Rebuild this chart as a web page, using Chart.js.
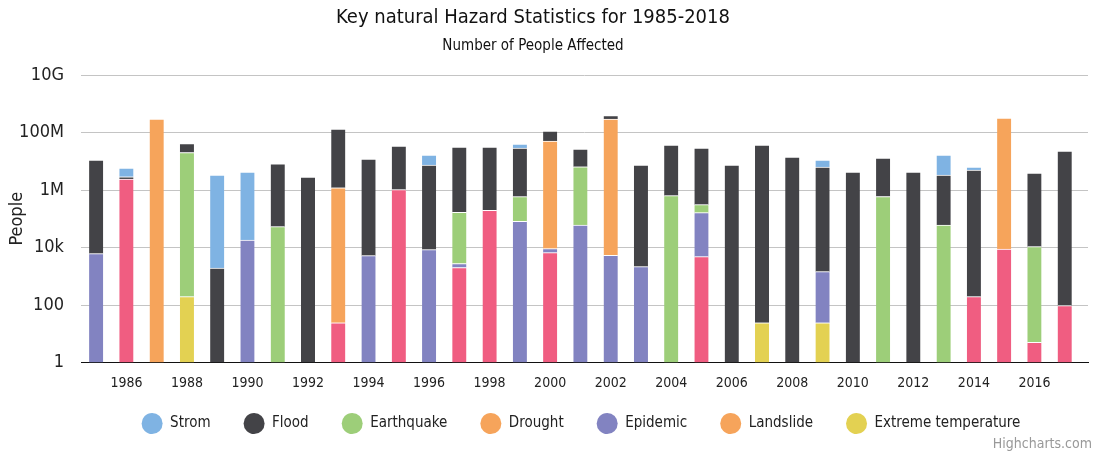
<!DOCTYPE html>
<html>
<head>
<meta charset="utf-8">
<script src="https://cdn.jsdelivr.net/npm/chart.js@4.4.0/dist/chart.umd.min.js"></script>
<style>
  html, body { margin: 0; padding: 0; background: #fff; }
  #wrap { width: 1102px; height: 456px; }
</style>
</head>
<body>
<div id="wrap"><canvas id="hazardChart" width="1102" height="456"></canvas></div>
<script>
// Key natural hazards 1985-2018, people affected per year (stacked, log axis)

const FONT = '"Liberation Sans Narrow", "DejaVu Sans Condensed", "Roboto", sans-serif';

const TITLE = 'Key natural Hazard Statistics for 1985-2018';
const SUBTITLE = 'Number of People Affected';
const CREDITS = 'Highcharts.com';

const years = [1985, 1986, 1987, 1988, 1989, 1990, 1991, 1992, 1993, 1994, 1995,
  1996, 1997, 1998, 1999, 2000, 2001, 2002, 2003, 2004, 2005, 2006,
  2007, 2008, 2009, 2010, 2011, 2012, 2013, 2014, 2015, 2016, 2017];

const X_TICKS = [1986, 1988, 1990, 1992, 1994, 1996, 1998, 2000, 2002, 2004, 2006, 2008, 2010, 2012, 2014, 2016];
const Y_TICKS = [1, 100, 1e4, 1e6, 1e8, 1e10];
const Y_TICK_LABELS = ['1', '100', '10k', '1M', '100M', '10G'];

const strom = [null, 2.9e6, null, null, 3.3e6, 4.2e6, null, null, null, null, null,
  9.1e6, null, null, 1.09e7, null, null, null, null, null, null, null,
  null, null, 4.7e6, null, null, null, 1.32e7, 1.35e6, null, null, null];

const flood = [1.1e7, 5e5, null, 2.1e7, 1940, null, 8e6, 2.8e6, 1.31e8, 1.2e7, 3.3e7,
  7.4e6, 3.11e7, 3.1e7, 2.83e7, 6.2e7, 2.0e7, 9e7, 7.4e6, 3.6e7, 2.86e7, 7.4e6,
  3.67e7, 1.41e7, 6.3e6, 4.23e6, 1.24e7, 4.23e6, 3.26e6, 4.96e6, null, 3.89e6, 2.27e7];

const earthquake = [null, null, null, 2e7, null, null, 53000, null, null, null, null,
  null, 164000, null, 505000, null, 6.4e6, null, null, 635000, 146000, null,
  null, null, null, null, 590000, null, 60000, null, null, 10700, null];

const drought = [null, null, 2.95e8, null, null, null, null, null, 1.2e6, null, null,
  null, null, null, null, 5.06e7, null, 2.95e8, null, null, null, null,
  null, null, null, null, null, null, null, null, 3.19e8, null, null];

const epidemic = [6100, null, null, null, null, 18000, null, null, null, 5200, null,
  8400, 750, null, 81000, 2500, 60000, 5300, 2150, null, 158000, null,
  null, null, 1420, null, null, null, null, null, null, null, null];

const landslide = [null, 2.4e6, null, null, null, null, null, null, 24, null, 1.03e6,
  null, 2000, 196000, null, 6600, null, null, null, null, 4800, null,
  null, null, null, null, null, null, null, 195, 8900, 5, 95];

const extremeTemp = [null, null, null, 195, null, null, null, null, null, null, null,
  null, null, null, null, null, null, null, null, null, null, null,
  24, null, 24, null, null, null, null, null, null, null, null];

// bottom of the stack first; legend is listed the other way round
const series = [
  { label: 'Extreme temperature', data: extremeTemp, color: '#e3d152', legendColor: '#e3d152' },
  { label: 'Landslide', data: landslide, color: '#f05d81', legendColor: '#f6a45b' },
  { label: 'Epidemic', data: epidemic, color: '#8283c1', legendColor: '#8283c1' },
  { label: 'Drought', data: drought, color: '#f6a45b', legendColor: '#f6a45b' },
  { label: 'Earthquake', data: earthquake, color: '#9dce79', legendColor: '#9dce79' },
  { label: 'Flood', data: flood, color: '#434347', legendColor: '#434347' },
  { label: 'Strom', data: strom, color: '#7fb3e3', legendColor: '#7fb3e3' },
];

// nudge the legend row to where the original sits
const LEG_DX = 37;
const LEG_DY = -9.5;

const headerPlugin = {
  id: 'header',
  afterDraw(chart) {
    const ctx = chart.ctx;
    ctx.save();
    ctx.textAlign = 'center';
    ctx.textBaseline = 'middle';
    ctx.fillStyle = '#111';
    ctx.font = `20px ${FONT}`;
    ctx.fillText(TITLE, 533, 18);
    ctx.font = `15px ${FONT}`;
    ctx.fillText(SUBTITLE, 533, 46);
    ctx.textAlign = 'right';
    ctx.fillStyle = '#999';
    ctx.font = `14px ${FONT}`;
    ctx.fillText(CREDITS, 1092, 444);
    ctx.restore();
  }
};

const legendShift = {
  id: 'legendShift',
  afterLayout(chart) {
    const lg = chart.legend;
    if (!lg) return;
    lg.left += LEG_DX;
    lg.right += LEG_DX;
    lg.top += LEG_DY;
    lg.bottom += LEG_DY;
  }
};

const ctx = document.getElementById('hazardChart');
new Chart(ctx, {
  type: 'bar',
  data: {
    datasets: series.map(s => ({
      label: s.label,
      data: years.map((y, i) => ({ x: y, y: s.data[i] })),
      backgroundColor: s.color,
      borderColor: '#ffffff',
      borderWidth: { top: 1, right: 0, bottom: 0, left: 0 },
      barThickness: 14,
      legendColor: s.legendColor,
    }))
  },
  options: {
    responsive: false,
    animation: false,
    layout: { padding: { top: 75, left: 0, right: 14, bottom: 5.5 } },
    plugins: {
      tooltip: { enabled: false },
      legend: {
        position: 'bottom',
        labels: {
          usePointStyle: true,
          boxWidth: 15,
          boxHeight: 15,
          pointStyleWidth: 21,
          padding: 33,
          color: '#222',
          font: { family: FONT, size: 15 },
          generateLabels(chart) {
            return chart.data.datasets.map((ds, i) => ({
              text: ds.label,
              fillStyle: ds.legendColor,
              strokeStyle: ds.legendColor,
              lineWidth: 0,
              pointStyle: 'circle',
              hidden: !chart.isDatasetVisible(i),
              datasetIndex: i,
              fontColor: '#222',
            })).reverse();
          }
        }
      }
    },
    scales: {
      x: {
        type: 'linear',
        stacked: true,
        offset: false,
        bounds: 'data',
        min: 1984.5,
        max: 2017.77,
        grid: { display: false, drawTicks: false },
        border: { display: true, color: '#111', width: 1 },
        afterBuildTicks: s => { s.ticks = X_TICKS.map(v => ({ value: v })); },
        afterFit: s => { s.height = 30; },
        ticks: {
          callback: v => String(v),
          autoSkip: false,
          maxRotation: 0,
          padding: 12,
          color: '#222',
          font: { family: FONT, size: 14 },
        }
      },
      y: {
        type: 'logarithmic',
        stacked: true,
        min: 1,
        max: 1e10,
        afterBuildTicks: s => { s.ticks = Y_TICKS.map(v => ({ value: v })); },
        afterFit: s => { s.width = 81; },
        grid: { color: '#c4c4c4', drawTicks: false, tickLength: 0 },
        border: { display: false },
        ticks: {
          callback: v => Y_TICK_LABELS[Y_TICKS.indexOf(v)],
          autoSkip: false,
          padding: 17,
          color: '#222',
          font: { family: FONT, size: 18 },
        },
        title: {
          display: true,
          text: 'People',
          color: '#222',
          font: { family: FONT, size: 18 },
          padding: { top: 7, bottom: 0 },
        }
      }
    }
  },
  plugins: [headerPlugin, legendShift]
});
</script>
</body>
</html>
